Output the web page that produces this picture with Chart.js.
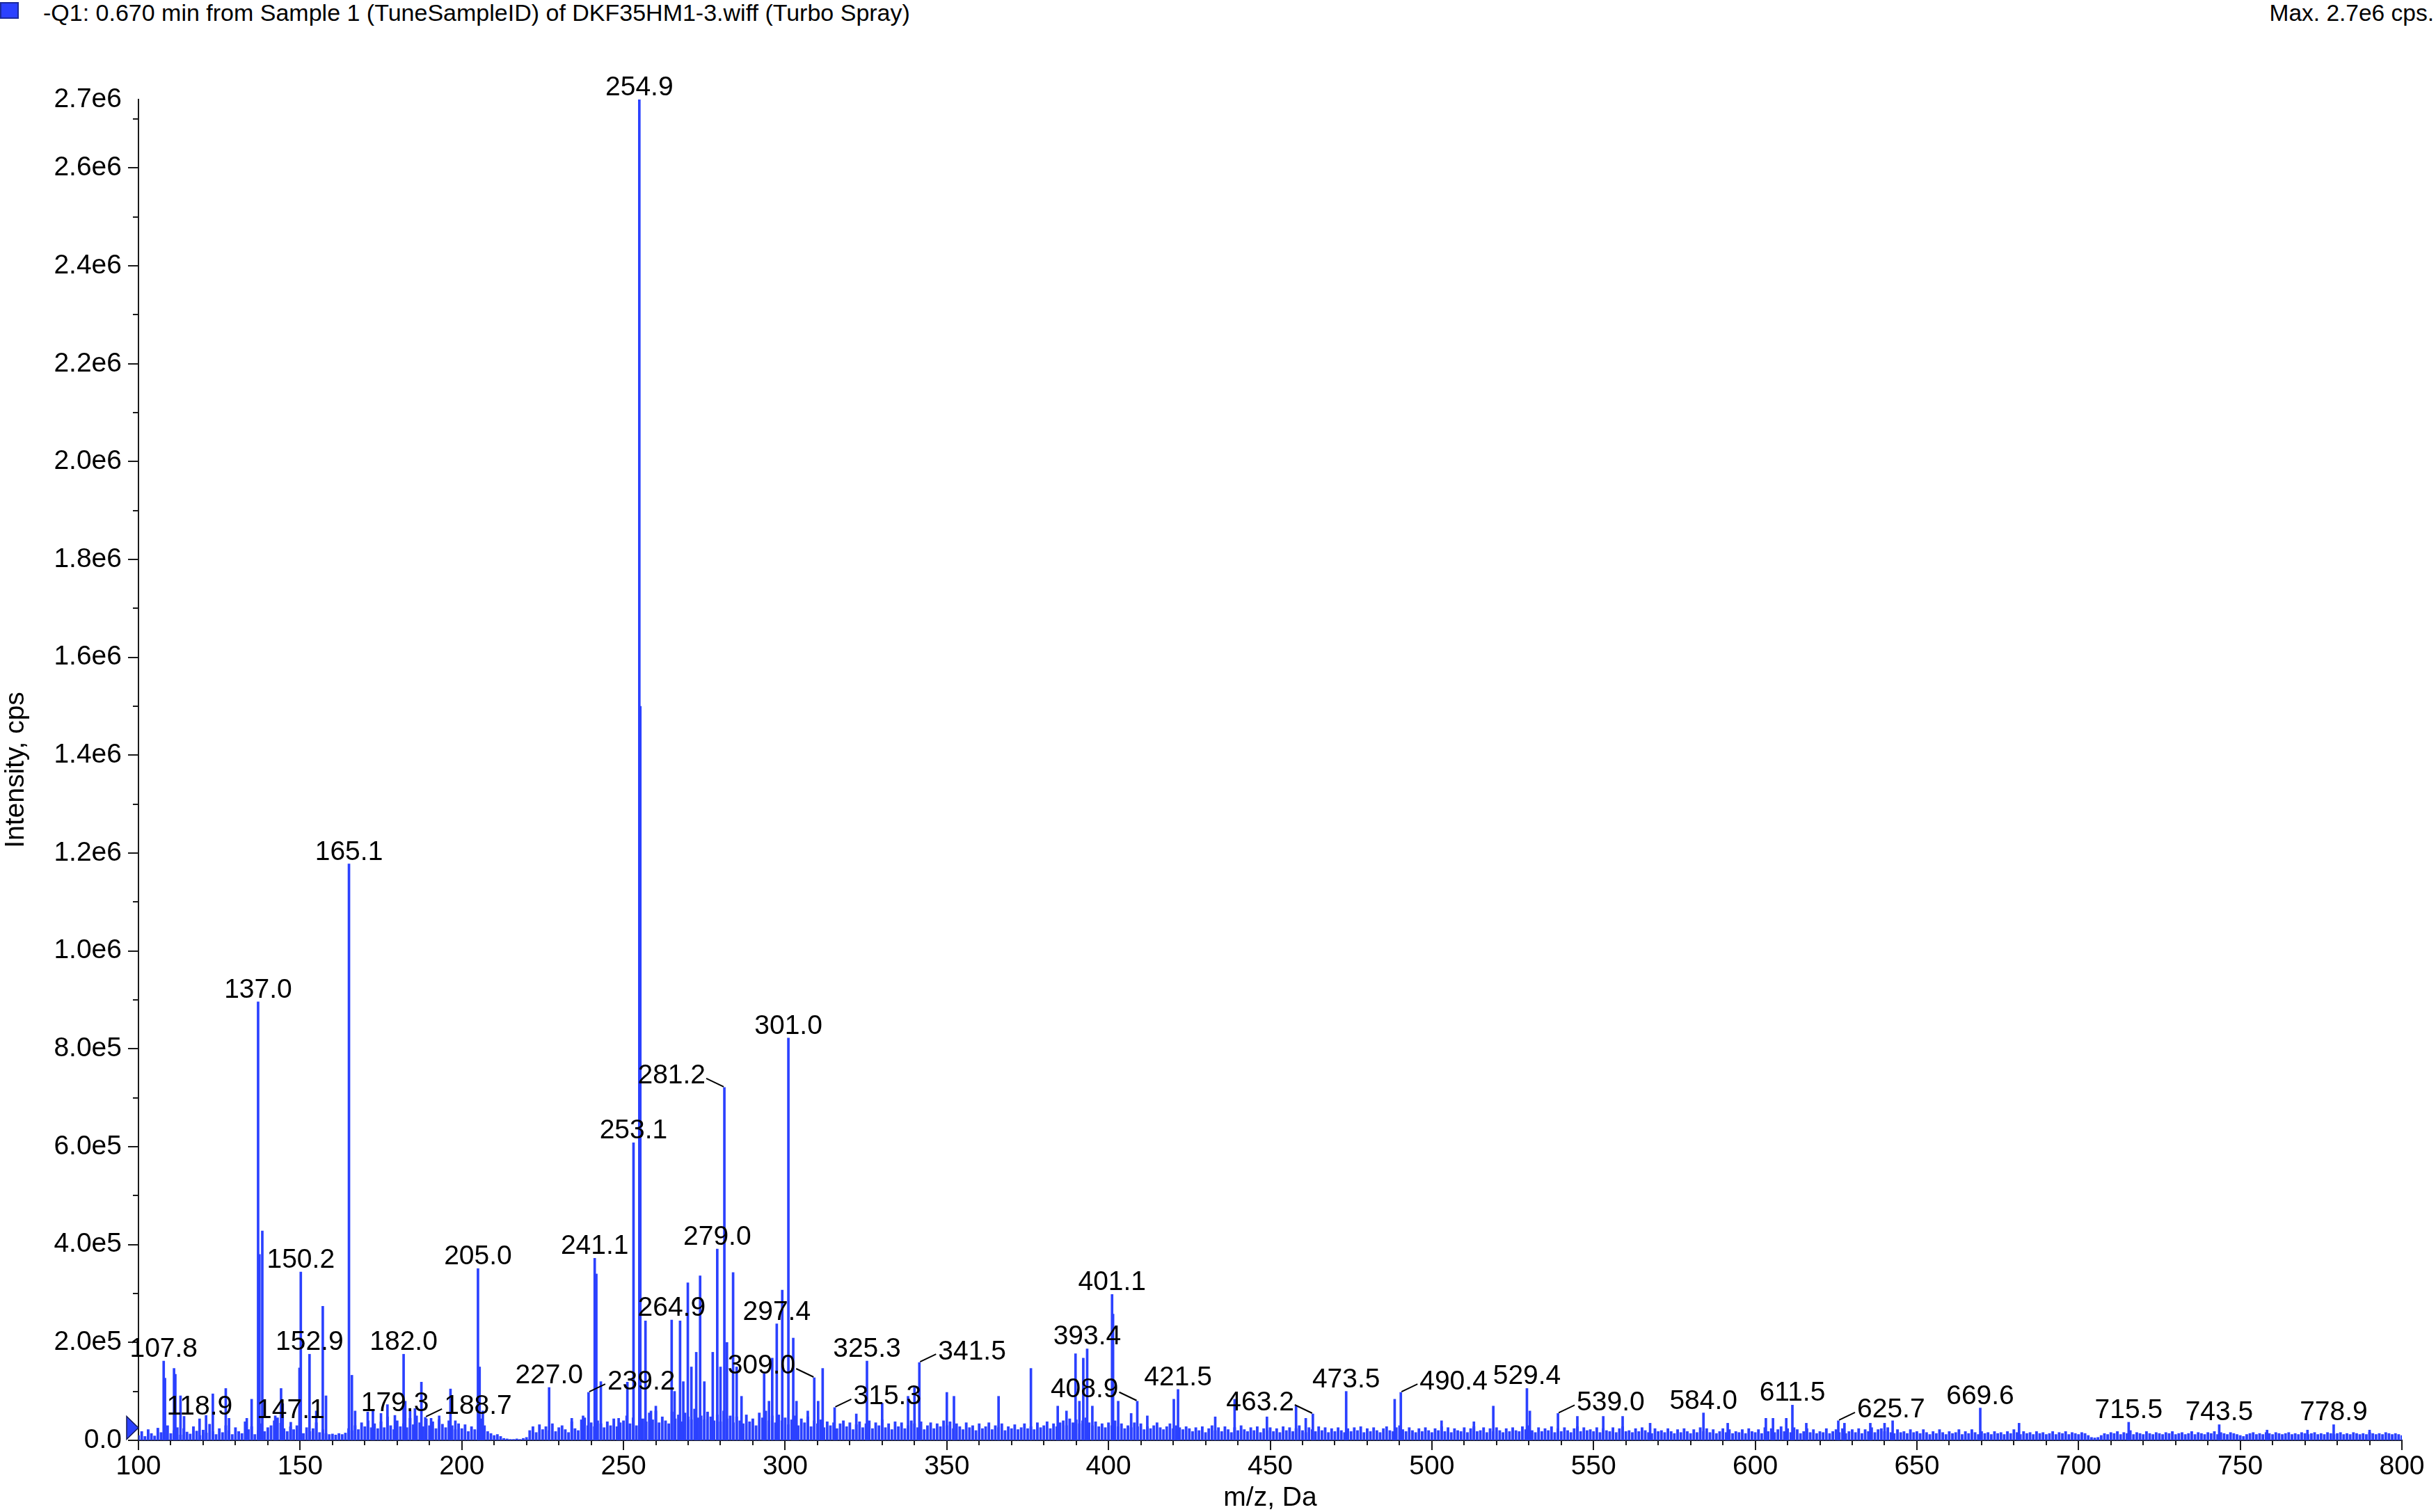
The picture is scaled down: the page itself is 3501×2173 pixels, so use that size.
<!DOCTYPE html>
<html>
<head>
<meta charset="utf-8">
<title>-Q1 spectrum, DKF35HM1-3</title>
<script src="https://cdn.jsdelivr.net/npm/chart.js@4.4.1/dist/chart.umd.min.js"></script>
<style>
  html, body { margin: 0; padding: 0; background: #fff; }
  body { width: 3501px; height: 2173px; position: relative; overflow: hidden;
         font-family: "Liberation Sans", Arial, Helvetica, sans-serif; }
  #wrap { position: absolute; left: 0; top: 0; width: 3501px; height: 2173px; }
  .hdr { position: absolute; top: 2px; font-size: 33.5px; line-height: 33px; color: #000; white-space: nowrap; }
  #legendBox { position: absolute; left: 0; top: 3px; width: 23px; height: 20px;
               background: #2b41ff; border: 2px solid #1b2a9c; }
</style>
</head>
<body>
<div id="legendBox"></div>
<div class="hdr" style="left:62px; font-size:34px">-Q1: 0.670 min from Sample 1 (TuneSampleID) of DKF35HM1-3.wiff (Turbo Spray)</div>
<div class="hdr" style="right:3px">Max. 2.7e6 cps.</div>
<div id="wrap"><canvas id="spec" width="3501" height="2173"></canvas></div>
<script>
// ---- data ----
const xMin = 100;
const xMax = 800;
const yMax = 2740000;

// baseline noise, one stick per integer m/z from 100 to 800, in units of 1e3 cps
const noiseStart = 100;
const noiseK = [
  10,18,8,22,14,9,25,16,12,30,14,20,26,11,24,17,13,28,19,10,21,15,33,18,12,   // 100
  24,16,30,20,12,26,18,14,38,22,28,12,20,34,18,26,30,40,46,35,24,18,28,22,30,  // 125
  20,14,26,18,24,36,16,22,14,12,13,11,14,12,15,24,20,30,22,36,28,40,26,34,24,  // 150
  38,26,48,30,22,40,28,34,26,45,32,50,36,28,44,30,38,24,42,33,26,40,30,22,34,  // 175
  24,32,18,28,22,20,44,30,18,14,10,12,8,4,3,2,2,3,2,4,6,20,28,16,32,           // 200
  22,28,20,34,18,26,30,22,16,38,24,20,42,46,30,36,28,40,34,26,38,30,44,28,36,  // 225
  40,50,34,46,30,52,44,38,56,42,60,36,48,40,34,58,44,52,38,56,48,42,64,46,50,  // 250
  42,58,48,40,52,38,60,44,50,36,48,40,34,52,38,44,30,56,46,60,40,50,36,52,40,  // 275
  46,32,42,50,30,44,36,48,28,40,34,42,26,38,30,36,24,34,40,28,36,22,32,38,26,  // 300
  34,40,24,36,30,42,26,34,22,38,28,36,24,30,40,34,26,38,22,30,36,24,34,28,40,  // 325
  30,38,24,34,28,22,36,26,30,20,34,24,28,36,22,30,26,34,20,28,24,32,22,26,34,  // 350
  24,28,22,36,26,30,38,24,34,28,36,40,30,44,36,42,34,40,46,36,30,38,28,34,26,  // 375
  36,30,40,28,34,24,30,26,36,28,34,22,28,24,30,36,26,22,28,34,24,30,26,22,28,  // 400
  24,18,26,20,28,16,24,30,20,26,18,28,22,16,26,20,30,22,18,26,20,28,16,24,20,  // 425
  26,18,24,16,28,20,26,18,24,30,20,16,26,22,18,28,20,26,16,24,18,26,20,16,24,  // 450
  18,26,20,28,16,24,18,26,20,16,24,28,20,18,26,30,22,18,26,20,16,24,18,26,20,  // 475
  16,24,20,28,18,26,16,24,20,18,26,16,24,28,18,20,26,16,24,18,26,20,16,24,18,  // 500
  26,20,18,28,22,30,20,16,26,18,24,20,28,16,24,18,26,20,16,24,28,18,26,20,22,  // 525
  18,26,16,24,20,18,26,16,24,28,18,20,16,24,18,26,20,16,14,24,18,20,16,24,18,  // 550
  14,22,16,24,18,14,22,16,26,18,24,16,22,14,18,24,16,22,14,18,16,22,14,24,18,  // 575
  16,22,14,26,18,24,16,22,28,18,24,16,26,22,14,18,24,16,22,14,18,16,24,14,18,  // 600
  22,16,24,14,18,22,16,24,14,22,18,26,16,22,24,18,26,16,14,22,16,18,14,22,16,  // 625
  18,14,22,16,12,18,14,22,16,12,18,14,16,22,12,18,14,22,16,12,18,14,16,12,18,  // 650
  14,16,12,18,14,22,16,12,18,14,16,12,18,14,16,12,14,18,12,16,14,18,12,16,14,  // 675
  12,16,14,10,6,5,6,10,14,12,16,14,18,12,16,14,20,12,16,14,12,18,14,12,16,     // 700
  14,12,16,14,18,12,14,16,12,14,18,12,16,14,12,16,14,18,12,16,14,12,16,14,12,  // 725
  10,8,12,14,16,12,14,12,16,14,12,16,14,12,14,16,12,14,12,16,14,12,14,16,12,   // 750
  14,12,16,14,12,14,16,12,14,12,16,14,12,14,12,16,14,12,14,12,16,14,12,14,12,  // 775
  10                                                                           // 800
];

// resolved peaks: m/z and intensity (cps)
const peakMz = [
  107.8, 108.2, 111.0, 111.4, 113.0, 114.1, 118.9, 120.9, 123.0, 127.0, 128.0, 133.5,
  135.0, 137.0, 137.4, 138.3, 142.3, 144.1, 144.6, 147.1, 149.8, 150.2, 152.9, 155.0,
  157.0, 158.0, 165.1, 166.0, 167.0, 170.9, 172.5, 175.0, 177.0, 179.3, 182.0, 182.5,
  184.0, 185.5, 187.5, 188.7, 190.5, 193.0, 196.5, 198.0, 205.0, 205.5, 206.5, 227.0,
  234.0, 237.5, 239.2, 241.1, 241.6, 243.0, 248.5, 251.2, 253.1, 254.9, 255.2, 256.8,
  258.5, 260.0, 264.9, 265.8, 267.5, 268.5, 269.9, 271.0, 272.5, 273.7, 275.0, 277.6,
  279.0, 280.0, 281.2, 282.0, 283.9, 285.0, 286.5, 293.5, 295.0, 296.0, 297.4, 299.1,
  301.0, 302.5, 303.5, 307.0, 309.0, 310.2, 311.6, 315.3, 322.0, 325.3, 330.0, 338.0,
  340.0, 341.5, 350.0, 352.2, 366.0, 376.0, 384.3, 387.0, 389.8, 391.0, 392.2, 393.4,
  395.0, 401.1, 401.4, 403.0, 407.0, 408.9, 412.0, 420.2, 421.5, 433.0, 439.0, 449.0,
  458.0, 461.0, 463.2, 473.5, 488.5, 490.4, 503.0, 513.0, 519.0, 529.4, 530.3, 539.0,
  545.0, 553.0, 559.0, 567.5, 584.0, 591.5, 603.3, 605.5, 609.6, 611.5, 615.8, 625.7,
  627.6, 635.6, 640.0, 642.5, 669.6, 681.6, 715.5, 743.5, 758.3, 770.8, 778.9, 790.0
];
const peakInt = [
  162000, 127000, 147000, 135000, 91000, 49000, 44000, 51000, 95000, 106000, 45000, 45000,
  84000, 896000, 380000, 428000, 50000, 106000, 75000, 37000, 148000, 344000, 176000, 60000,
  274000, 91000, 1178000, 133000, 60000, 58000, 62000, 55000, 73000, 51000, 176000, 80000,
  60000, 65000, 119000, 47000, 45000, 50000, 105000, 40000, 351000, 150000, 60000, 108000,
  45000, 50000, 98000, 372000, 340000, 120000, 45000, 119000, 608000, 2740000, 1500000, 244000,
  60000, 70000, 246000, 100000, 244000, 120000, 322000, 150000, 180000, 336000, 120000, 180000,
  391000, 150000, 721000, 200000, 343000, 150000, 90000, 136000, 80000, 168000, 238000, 307000,
  822000, 209000, 80000, 60000, 128000, 80000, 147000, 67000, 54000, 162000, 76000, 90000,
  108000, 159000, 98000, 90000, 90000, 147000, 70000, 60000, 177000, 80000, 168000, 187000,
  70000, 298000, 258000, 80000, 55000, 80000, 50000, 84000, 104000, 48000, 84000, 48000,
  70000, 45000, 54000, 100000, 84000, 98000, 40000, 38000, 70000, 106000, 60000, 55000,
  49000, 49000, 49000, 35000, 56000, 35000, 45000, 45000, 45000, 72000, 35000, 40000,
  35000, 35000, 35000, 40000, 66000, 35000, 37000, 32000, 21000, 21000, 32000, 21000
];

// peaks carrying an m/z annotation
const labeledMz = [
  107.8, 118.9, 137.0, 147.1, 150.2, 152.9, 165.1, 179.3, 182.0, 188.7, 205.0, 227.0,
  239.2, 241.1, 253.1, 254.9, 264.9, 279.0, 281.2, 297.4, 301.0, 309.0, 315.3, 325.3,
  341.5, 393.4, 401.1, 408.9, 421.5, 463.2, 473.5, 490.4, 529.4, 539.0, 584.0, 611.5,
  625.7, 669.6, 715.5, 743.5, 778.9
];

// intensity threshold marker on the y axis
const threshold = 25600;

// axis ticks
const xTickLabels = ['100', '150', '200', '250', '300', '350', '400', '450', '500', '550', '600', '650', '700', '750', '800'];
const yTickValues = [0, 1e5, 2e5, 3e5, 4e5, 5e5, 6e5, 7e5, 8e5, 9e5, 1.0e6, 1.1e6, 1.2e6, 1.3e6, 1.4e6,
                     1.5e6, 1.6e6, 1.7e6, 1.8e6, 1.9e6, 2.0e6, 2.1e6, 2.2e6, 2.3e6, 2.4e6, 2.5e6, 2.6e6, 2.7e6, 2.74e6];
const yTickLabels = ['0.0', '', '2.0e5', '', '4.0e5', '', '6.0e5', '', '8.0e5', '', '1.0e6', '', '1.2e6', '', '1.4e6',
                     '', '1.6e6', '', '1.8e6', '', '2.0e6', '', '2.2e6', '', '2.4e6', '', '2.6e6', '', '2.7e6'];

// ---- style ----
const BLUE = '#2b41ff';
const AXIS = '#1a1a1a';
const FONT = '"Liberation Sans", Arial, Helvetica, sans-serif';
// annotations that sit beside their peak with a short leader line
const leaderSide = {
  '188.7': 'r', '239.2': 'r', '315.3': 'r', '341.5': 'r', '490.4': 'r', '539.0': 'r', '625.7': 'r',
  '281.2': 'l', '309.0': 'l', '408.9': 'l', '463.2': 'l'
};

Chart.defaults.font.family = FONT;
Chart.defaults.color = '#000';

const noisePts = noiseK.map((v, i) => ({ x: noiseStart + i, y: v * 1000 }));
const peakPts = peakMz.map((m, i) => ({ x: m, y: peakInt[i] }));

function seg(ctx, x1, y1, x2, y2) {
  ctx.beginPath();
  ctx.moveTo(x1, y1);
  ctx.lineTo(x2, y2);
  ctx.stroke();
}

const decor = {
  id: 'decor',
  afterDraw(chart) {
    const { ctx, chartArea: a, scales: { x, y } } = chart;
    ctx.save();
    ctx.strokeStyle = AXIS;
    ctx.lineWidth = 2;

    // tick marks: long on labelled values, short in between
    x.ticks.forEach((t) => {
      const px = Math.round(x.getPixelForValue(t.value));
      const len = xTickLabels.includes(String(t.value)) ? 14 : 7;
      seg(ctx, px, a.bottom, px, a.bottom + len);
    });
    y.ticks.forEach((t, i) => {
      if (t.value >= yMax) return;
      const py = Math.round(y.getPixelForValue(t.value));
      const len = yTickLabels[i] ? 15 : 8;
      seg(ctx, a.left - len, py, a.left, py);
    });

    // threshold arrow
    const ty = y.getPixelForValue(threshold);
    ctx.beginPath();
    ctx.moveTo(a.left, ty);
    ctx.lineTo(a.left - 17, ty - 16.5);
    ctx.lineTo(a.left - 17, ty + 16.5);
    ctx.closePath();
    ctx.fillStyle = BLUE;
    ctx.fill();
    ctx.lineWidth = 1.5;
    ctx.strokeStyle = '#141a55';
    ctx.stroke();

    // peak annotations
    ctx.font = '39px ' + FONT;
    ctx.fillStyle = '#000';
    ctx.strokeStyle = '#000';
    ctx.lineWidth = 2;
    ctx.textBaseline = 'alphabetic';
    labeledMz.forEach((m) => {
      const i = peakMz.indexOf(m);
      const txt = m.toFixed(1);
      const px = x.getPixelForValue(m);
      const py = y.getPixelForValue(peakInt[i]);
      const side = leaderSide[txt];
      if (side === 'r') {
        seg(ctx, px + 1, py - 1, px + 24, py - 12);
        ctx.textAlign = 'left';
        ctx.fillText(txt, px + 27, py - 4.5);
      } else if (side === 'l') {
        seg(ctx, px - 1, py - 1, px - 26, py - 13);
        ctx.textAlign = 'right';
        ctx.fillText(txt, px - 27, py - 5.5);
      } else {
        ctx.textAlign = 'center';
        ctx.fillText(txt, px, py - 6);
      }
    });
    ctx.restore();
  }
};

new Chart(document.getElementById('spec'), {
  type: 'bar',
  data: {
    datasets: [
      { label: 'noise', data: noisePts, backgroundColor: BLUE, borderWidth: 0, barThickness: 3.2, grouped: false },
      { label: '-Q1', data: peakPts, backgroundColor: BLUE, borderWidth: 0, barThickness: 3, grouped: false }
    ]
  },
  options: {
    responsive: false,
    devicePixelRatio: 1,
    animation: false,
    events: [],
    layout: { padding: { top: 143, right: 49, left: 0, bottom: 0 } },
    plugins: { legend: { display: false }, tooltip: { enabled: false } },
    scales: {
      x: {
        type: 'linear', min: xMin, max: xMax, offset: false,
        grid: { display: true, drawOnChartArea: false, drawTicks: true, tickLength: 14, tickColor: 'rgba(0,0,0,0)', offset: false },
        border: { display: true, color: AXIS, width: 2 },
        ticks: {
          stepSize: 10, autoSkip: false, maxRotation: 0, minRotation: 0, padding: 1,
          color: '#000', font: { size: 39 },
          callback: (v) => (xTickLabels.includes(String(v)) ? String(v) : '')
        },
        title: { display: true, text: 'm/z, Da', color: '#000', font: { size: 39 }, padding: { top: 0, bottom: -4 } },
        afterFit: (s) => { s.height = 103; }
      },
      y: {
        type: 'linear', min: 0, max: yMax,
        grid: { display: true, drawOnChartArea: false, drawTicks: true, tickLength: 15, tickColor: 'rgba(0,0,0,0)' },
        border: { display: true, color: AXIS, width: 2 },
        afterBuildTicks: (s) => { s.ticks = yTickValues.map((v) => ({ value: v })); },
        ticks: {
          autoSkip: false, padding: 9, color: '#000', font: { size: 39 },
          callback: (v, i) => yTickLabels[i]
        },
        title: { display: true, text: 'Intensity, cps', color: '#000', font: { size: 39 }, padding: { top: 0, bottom: 0 } },
        afterFit: (s) => { s.width = 199; }
      }
    }
  },
  plugins: [decor]
});
</script>
</body>
</html>
